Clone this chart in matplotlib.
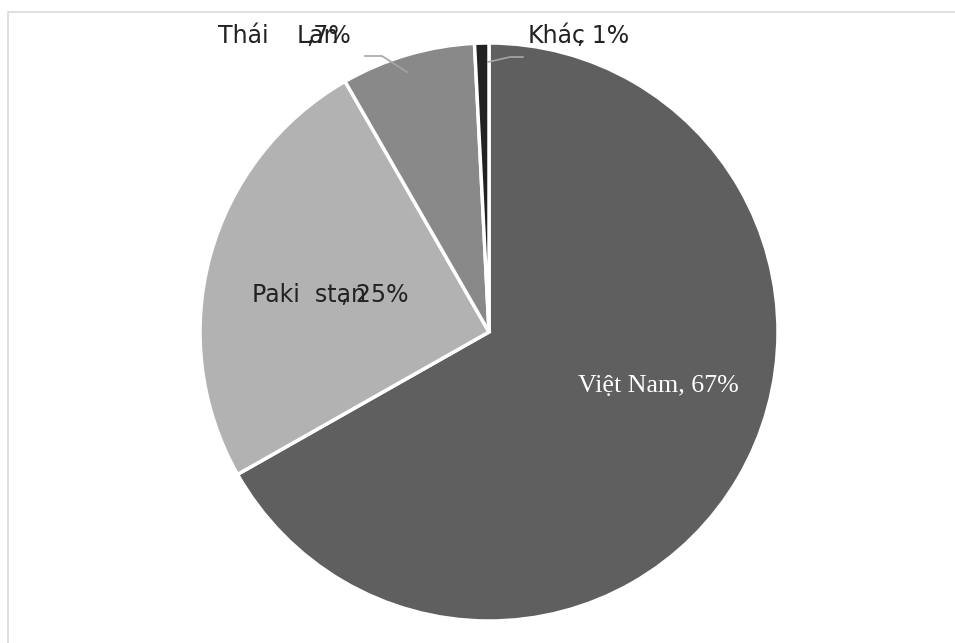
import matplotlib.pyplot as plt
from matplotlib.patches import Rectangle

# Datos
paises = ['Việt Nam', 'Pakistan', 'Thái Lan', 'Khác']
valores = [66.8, 24.9, 7.5, 0.8]
etiquetas_pct = ['67%', '25%', '7%', '1%']
colores = ['#5f5f5f', '#b2b2b2', '#898989', '#222222']

W, H = 955, 643
fig = plt.figure(figsize=(W / 100, H / 100), dpi=100)
ax = fig.add_axes([0, 0, 1, 1])

ax.pie(valores, colors=colores, startangle=90, counterclock=False,
       center=(489, H - 332), radius=289,
       wedgeprops=dict(edgecolor='white', linewidth=2.5))
ax.set_xlim(0, W)
ax.set_ylim(0, H)
ax.set_aspect('equal')
ax.axis('off')

# Marco del grafico
ax.add_patch(Rectangle((8, -20), W + 20, H - 12 + 20, fill=False,
                       edgecolor='#d9d9d9', linewidth=1.2, clip_on=False))

txt = dict(family='DejaVu Sans', fontsize=17, color='#222222', va='baseline')

# Thái Lan (etiqueta afuera con linea guia)
ax.text(218, H - 43, 'Thái', **txt)
ax.text(297, H - 43, paises[2].split()[1], **txt)
ax.text(306, H - 43, ',' + etiquetas_pct[2], **txt)
ax.plot([365, 382, 407], [H - 56, H - 56, H - 72], color='#a6a6a6', lw=1.2)

# Khác
ax.text(528, H - 43, paises[3], **txt)
ax.text(577, H - 43, ', ' + etiquetas_pct[3], **txt)
ax.plot([488, 510, 523], [H - 62, H - 57, H - 57], color='#a6a6a6', lw=1.2)

# Pakistan
ax.text(252, H - 302, 'Paki  stan', **txt)
ax.text(341, H - 302, ', ' + etiquetas_pct[1], **txt)

# Việt Nam
ax.text(578, H - 392, paises[0] + ', ' + etiquetas_pct[0], family='Liberation Serif',
        fontsize=18.7, color='white', va='baseline')

fig.savefig('out.png', dpi=100)
